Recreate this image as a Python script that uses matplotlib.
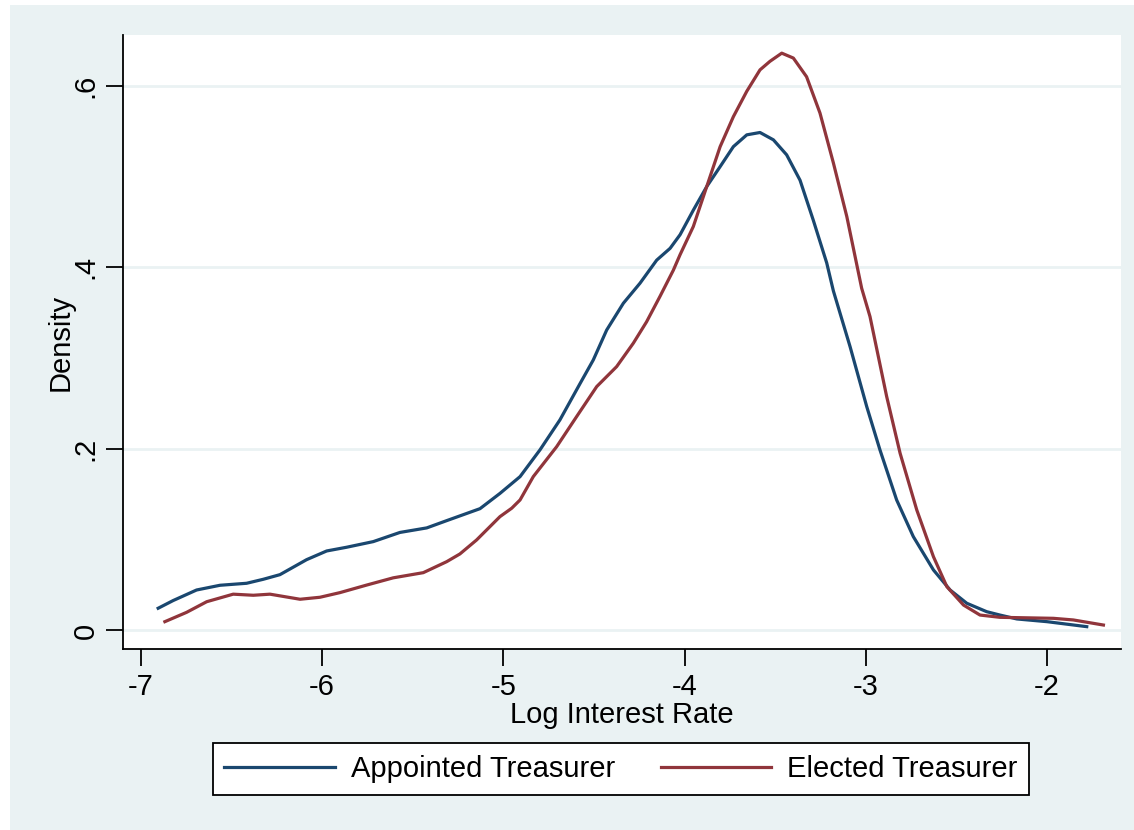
import matplotlib
matplotlib.use("Agg")
import matplotlib.pyplot as plt
from matplotlib.patches import Rectangle

BG = "#EAF2F3"
BLUE = "#1A476F"
RED = "#90353B"

# Appointed Treasurer density
appointed_x = [-6.905, -6.822, -6.693, -6.564, -6.417, -6.325, -6.233, -6.086, -5.975,
               -5.865, -5.718, -5.571, -5.423, -5.313, -5.129, -5.019, -4.908, -4.798,
               -4.688, -4.577, -4.504, -4.43, -4.338, -4.246, -4.154, -4.08, -4.025,
               -3.952, -3.878, -3.804, -3.731, -3.657, -3.584, -3.51, -3.437, -3.363,
               -3.29, -3.216, -3.179, -3.087, -2.995, -2.922, -2.83, -2.738, -2.627,
               -2.535, -2.443, -2.333, -2.26, -2.167, -2.0, -1.781]
appointed_y = [0.0245, 0.033, 0.0446, 0.0498, 0.052, 0.0564, 0.0615, 0.078, 0.0876,
               0.0917, 0.0979, 0.108, 0.113, 0.121, 0.1342, 0.151, 0.1695, 0.199,
               0.232, 0.272, 0.298, 0.331, 0.3605, 0.3826, 0.408, 0.421, 0.436,
               0.463, 0.489, 0.511, 0.533, 0.546, 0.5486, 0.5405, 0.524, 0.496,
               0.452, 0.405, 0.374, 0.3127, 0.2466, 0.1989, 0.1438, 0.1034, 0.0667,
               0.0446, 0.030, 0.0207, 0.017, 0.0127, 0.0097, 0.0042]

# Elected Treasurer density
elected_x = [-6.868, -6.748, -6.637, -6.491, -6.38, -6.288, -6.122, -6.012, -5.902,
             -5.755, -5.608, -5.442, -5.313, -5.24, -5.148, -5.019, -4.954, -4.908,
             -4.835, -4.706, -4.596, -4.485, -4.375, -4.283, -4.21, -4.136, -4.062,
             -4.025, -3.952, -3.878, -3.804, -3.731, -3.657, -3.584, -3.529, -3.464,
             -3.4, -3.327, -3.253, -3.179, -3.105, -3.023, -2.977, -2.885, -2.811,
             -2.719, -2.627, -2.553, -2.461, -2.37, -2.26, -1.965, -1.855, -1.689]
elected_y = [0.0097, 0.020, 0.0317, 0.040, 0.0388, 0.040, 0.0344, 0.0366, 0.0417,
             0.050, 0.058, 0.0637, 0.0758, 0.0843, 0.0997, 0.1254, 0.1347, 0.1438,
             0.1695, 0.2025, 0.2356, 0.2687, 0.2907, 0.3165, 0.340, 0.368, 0.397,
             0.414, 0.445, 0.489, 0.533, 0.566, 0.594, 0.6176, 0.627, 0.636,
             0.6306, 0.610, 0.570, 0.515, 0.456, 0.377, 0.3458, 0.2577, 0.1953,
             0.1328, 0.0813, 0.0483, 0.028, 0.017, 0.0145, 0.0134, 0.0116, 0.006]

x_ticks = [-7, -6, -5, -4, -3, -2]
x_labels = ["-7", "-6", "-5", "-4", "-3", "-2"]
y_ticks = [0, 0.2, 0.4, 0.6]
y_labels = ["0", ".2", ".4", ".6"]

FS = 21
plt.rcParams["font.family"] = ["Liberation Sans", "DejaVu Sans"]

fig = plt.figure(figsize=(11.34, 8.3), dpi=100, facecolor="white")
fig.patches.append(Rectangle((10 / 1134, 0), 1 - 10 / 1134, 825 / 830,
                             transform=fig.transFigure, facecolor=BG,
                             edgecolor="none", zorder=0))

ax = fig.add_axes([123 / 1134, 181 / 830, 998 / 1134, 614 / 830])
ax.set_facecolor("white")
ax.set_zorder(1)

ax.plot(appointed_x, appointed_y, color=BLUE, lw=2.3, label="Appointed Treasurer", zorder=3)
ax.plot(elected_x, elected_y, color=RED, lw=2.3, label="Elected Treasurer", zorder=3)

ax.set_xlim(-7.099, -1.592)
ax.set_ylim(-0.0204, 0.656)

ax.set_yticks(y_ticks)
ax.set_yticklabels(y_labels, rotation=90, va="center")
ax.set_xticks(x_ticks)
ax.set_xticklabels(x_labels)
for y in y_ticks:
    ax.axhline(y, color=BG, lw=2, zorder=1)

ax.tick_params(axis="both", labelsize=FS, length=12, width=1.3, color="black", pad=5)
for side in ["top", "right"]:
    ax.spines[side].set_visible(False)
for side in ["left", "bottom"]:
    ax.spines[side].set_linewidth(1.3)

ax.set_xlabel("Log Interest Rate", fontsize=FS, labelpad=0)
ax.set_ylabel("Density", fontsize=FS, labelpad=-2)

leg = fig.legend(loc="center", bbox_to_anchor=(621 / 1134, 1 - 769 / 830), ncol=2,
                 fontsize=FS, handlelength=3.8, handletextpad=0.55, columnspacing=1.55,
                 frameon=True, fancybox=False, borderpad=0.4, borderaxespad=0)
leg.get_frame().set_edgecolor("black")
leg.get_frame().set_linewidth(1.3)
leg.get_frame().set_facecolor("white")
leg.get_frame().set_alpha(1)

fig.savefig("out.png", dpi=100)
